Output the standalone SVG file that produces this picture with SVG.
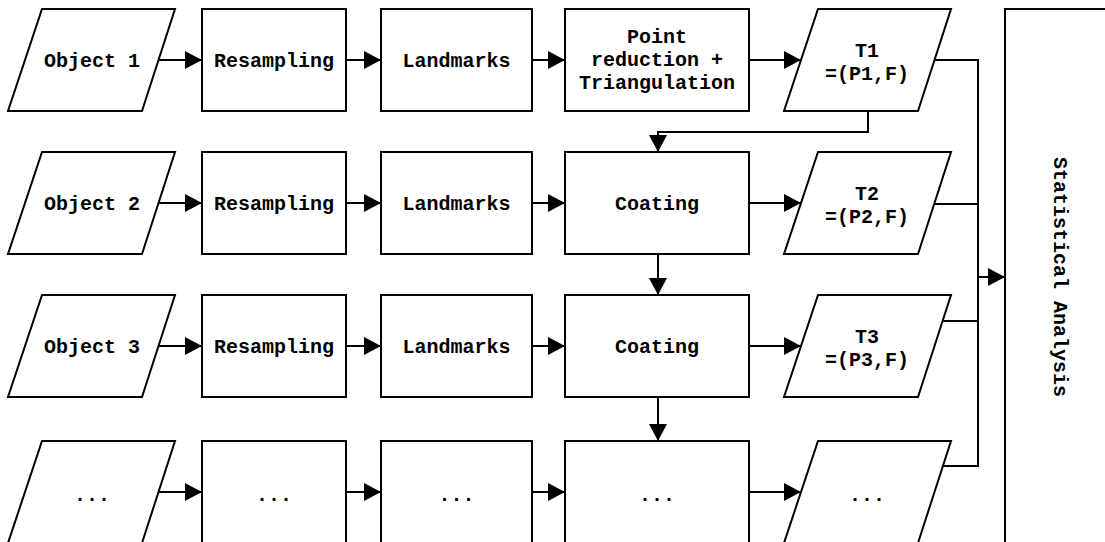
<svg xmlns="http://www.w3.org/2000/svg" width="1105" height="542" viewBox="0 0 1105 542">
<style>
.s{fill:#fff;stroke:#000;stroke-width:2}
.c{fill:none;stroke:#000;stroke-width:2}
text{font-family:"Liberation Mono","Courier New",monospace;font-weight:bold;font-size:20px;text-anchor:middle;fill:#000}
</style>
<defs>
<marker id="a" markerWidth="17" markerHeight="18" refX="17" refY="9" orient="auto" markerUnits="userSpaceOnUse">
<path d="M0,0L17,9L0,18Z" fill="#000"/>
</marker>
</defs>
<rect width="1105" height="542" fill="#fff"/>
<g id="connectors" class="c" marker-end="url(#a)">
<path d="M158,60H202"/><path d="M346,60H381"/><path d="M532,60H565"/><path d="M749,60H801"/>
<path d="M158,203H202"/><path d="M346,203H381"/><path d="M532,203H565"/><path d="M749,203H801"/>
<path d="M158,346H202"/><path d="M346,346H381"/><path d="M532,346H565"/><path d="M749,346H801"/>
<path d="M158,492H202"/><path d="M346,492H381"/><path d="M532,492H565"/><path d="M749,492H801"/>
<path d="M868,111V132H658V152"/>
<path d="M658,254V295"/>
<path d="M658,397V441"/>
<path d="M978,277H1005"/>
<path d="M934,60H978V466H943M934,204H978M943,321H978" marker-end="none"/>
</g>
<g id="obj1"><path class="s" d="M42,9H175L142,111H8Z"/><text x="92" y="67">Object 1</text></g>
<g id="res1"><rect class="s" x="202" y="9" width="144" height="102"/><text x="274" y="67">Resampling</text></g>
<g id="lm1"><rect class="s" x="381" y="9" width="151" height="102"/><text x="456.5" y="67">Landmarks</text></g>
<g id="pr1"><rect class="s" x="565" y="9" width="184" height="102"/><text x="657" y="43">Point</text><text x="657" y="66">reduction +</text><text x="657" y="89">Triangulation</text></g>
<g id="t1"><path class="s" d="M818,9H951L918,111H784Z"/><text x="867" y="57">T1</text><text x="867" y="80">=(P1,F)</text></g>

<g id="obj2"><path class="s" d="M42,152H175L142,254H8Z"/><text x="92" y="210">Object 2</text></g>
<g id="res2"><rect class="s" x="202" y="152" width="144" height="102"/><text x="274" y="210">Resampling</text></g>
<g id="lm2"><rect class="s" x="381" y="152" width="151" height="102"/><text x="456.5" y="210">Landmarks</text></g>
<g id="co2"><rect class="s" x="565" y="152" width="184" height="102"/><text x="657" y="210">Coating</text></g>
<g id="t2"><path class="s" d="M818,152H951L918,254H784Z"/><text x="867" y="200">T2</text><text x="867" y="223">=(P2,F)</text></g>

<g id="obj3"><path class="s" d="M42,295H175L142,397H8Z"/><text x="92" y="353">Object 3</text></g>
<g id="res3"><rect class="s" x="202" y="295" width="144" height="102"/><text x="274" y="353">Resampling</text></g>
<g id="lm3"><rect class="s" x="381" y="295" width="151" height="102"/><text x="456.5" y="353">Landmarks</text></g>
<g id="co3"><rect class="s" x="565" y="295" width="184" height="102"/><text x="657" y="353">Coating</text></g>
<g id="t3"><path class="s" d="M818,295H951L918,397H784Z"/><text x="867" y="343">T3</text><text x="867" y="366">=(P3,F)</text></g>

<g id="obj4"><path class="s" d="M42,441H175L142,543H8Z"/><text x="92" y="501">...</text></g>
<g id="res4"><rect class="s" x="202" y="441" width="144" height="102"/><text x="274" y="501">...</text></g>
<g id="lm4"><rect class="s" x="381" y="441" width="151" height="102"/><text x="456.5" y="501">...</text></g>
<g id="co4"><rect class="s" x="565" y="441" width="184" height="102"/><text x="657" y="501">...</text></g>
<g id="t4"><path class="s" d="M818,441H951L918,543H784Z"/><text x="867" y="501">...</text></g>

<g id="stat"><rect class="s" x="1005" y="9" width="110" height="540"/><text transform="translate(1054,277) rotate(90)">Statistical Analysis</text></g>
</svg>
